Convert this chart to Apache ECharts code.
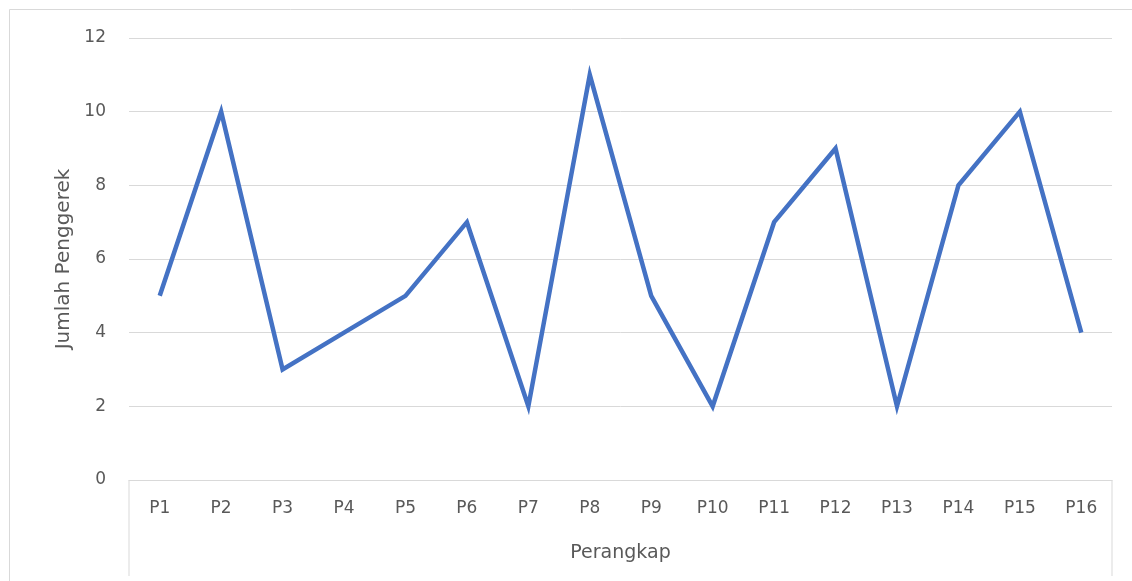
<!DOCTYPE html>
<html>
<head>
<meta charset="utf-8">
<script src="https://cdn.jsdelivr.net/npm/echarts@6/dist/echarts.min.js"></script>
<style>
html,body{margin:0;padding:0;background:#fff;}
#chart{width:1132px;height:581px;}
</style>
</head>
<body>
<div id="chart"></div>
<script>
const categories = ['P1','P2','P3','P4','P5','P6','P7','P8','P9','P10','P11','P12','P13','P14','P15','P16'];
const values = [5,10,3,4,5,7,2,11,5,2,7,9,2,8,10,4];
const yTicks = [0,2,4,6,8,10,12];
const xTitle = 'Perangkap';
const yTitle = 'Jumlah Penggerek';

const chart = echarts.init(document.getElementById('chart'));
const FONT = 'DejaVu Sans';
const option = {
  animation: false,
  backgroundColor: '#fff',
  grid: {left: 129, right: 20, top: 38, bottom: 101, containLabel: false},
  xAxis: {
    type: 'category',
    data: categories,
    boundaryGap: true,
    axisLine: {show: true, lineStyle: {color: '#d9d9d9', width: 1}},
    axisTick: {show: false},
    axisLabel: {color: '#595959', fontFamily: FONT, fontSize: 17, margin: 20},
    name: xTitle,
    nameLocation: 'middle',
    nameGap: 64,
    nameTextStyle: {color: '#595959', fontFamily: FONT, fontSize: 19}
  },
  yAxis: {
    type: 'value',
    min: yTicks[0],
    max: yTicks[yTicks.length - 1],
    interval: 2,
    axisLine: {show: false},
    axisTick: {show: false},
    splitLine: {show: true, lineStyle: {color: '#d9d9d9', width: 1}},
    axisLabel: {color: '#595959', fontFamily: FONT, fontSize: 17, margin: 23},
    name: yTitle,
    nameLocation: 'middle',
    nameRotate: 90,
    nameGap: 55,
    nameTextStyle: {color: '#595959', fontFamily: FONT, fontSize: 20}
  },
  series: [{
    type: 'line',
    data: values,
    symbol: 'none',
    lineStyle: {color: '#4472C4', width: 4.5, join: 'miter'},
    itemStyle: {color: '#4472C4'}
  }]
};
chart.setOption(option);

// decorations: outer border and category box side lines
const x0 = chart.convertToPixel({xAxisIndex: 0}, categories[0]);
const y0 = chart.convertToPixel({yAxisIndex: 0}, 0);
const half = (chart.convertToPixel({xAxisIndex: 0}, categories[1]) - x0) / 2;
const leftX = x0 - half;
const rightX = chart.convertToPixel({xAxisIndex: 0}, categories[categories.length - 1]) + half;
chart.setOption({
  graphic: [
    {type: 'rect', shape: {x: 9.5, y: 9.5, width: 1200, height: 700}, style: {fill: null, stroke: '#d9d9d9', lineWidth: 1}, silent: true},
    {type: 'line', shape: {x1: leftX, y1: y0, x2: leftX, y2: 576}, style: {stroke: '#d9d9d9', lineWidth: 1}, silent: true},
    {type: 'line', shape: {x1: rightX, y1: y0, x2: rightX, y2: 576}, style: {stroke: '#d9d9d9', lineWidth: 1}, silent: true}
  ]
});
</script>
</body>
</html>
